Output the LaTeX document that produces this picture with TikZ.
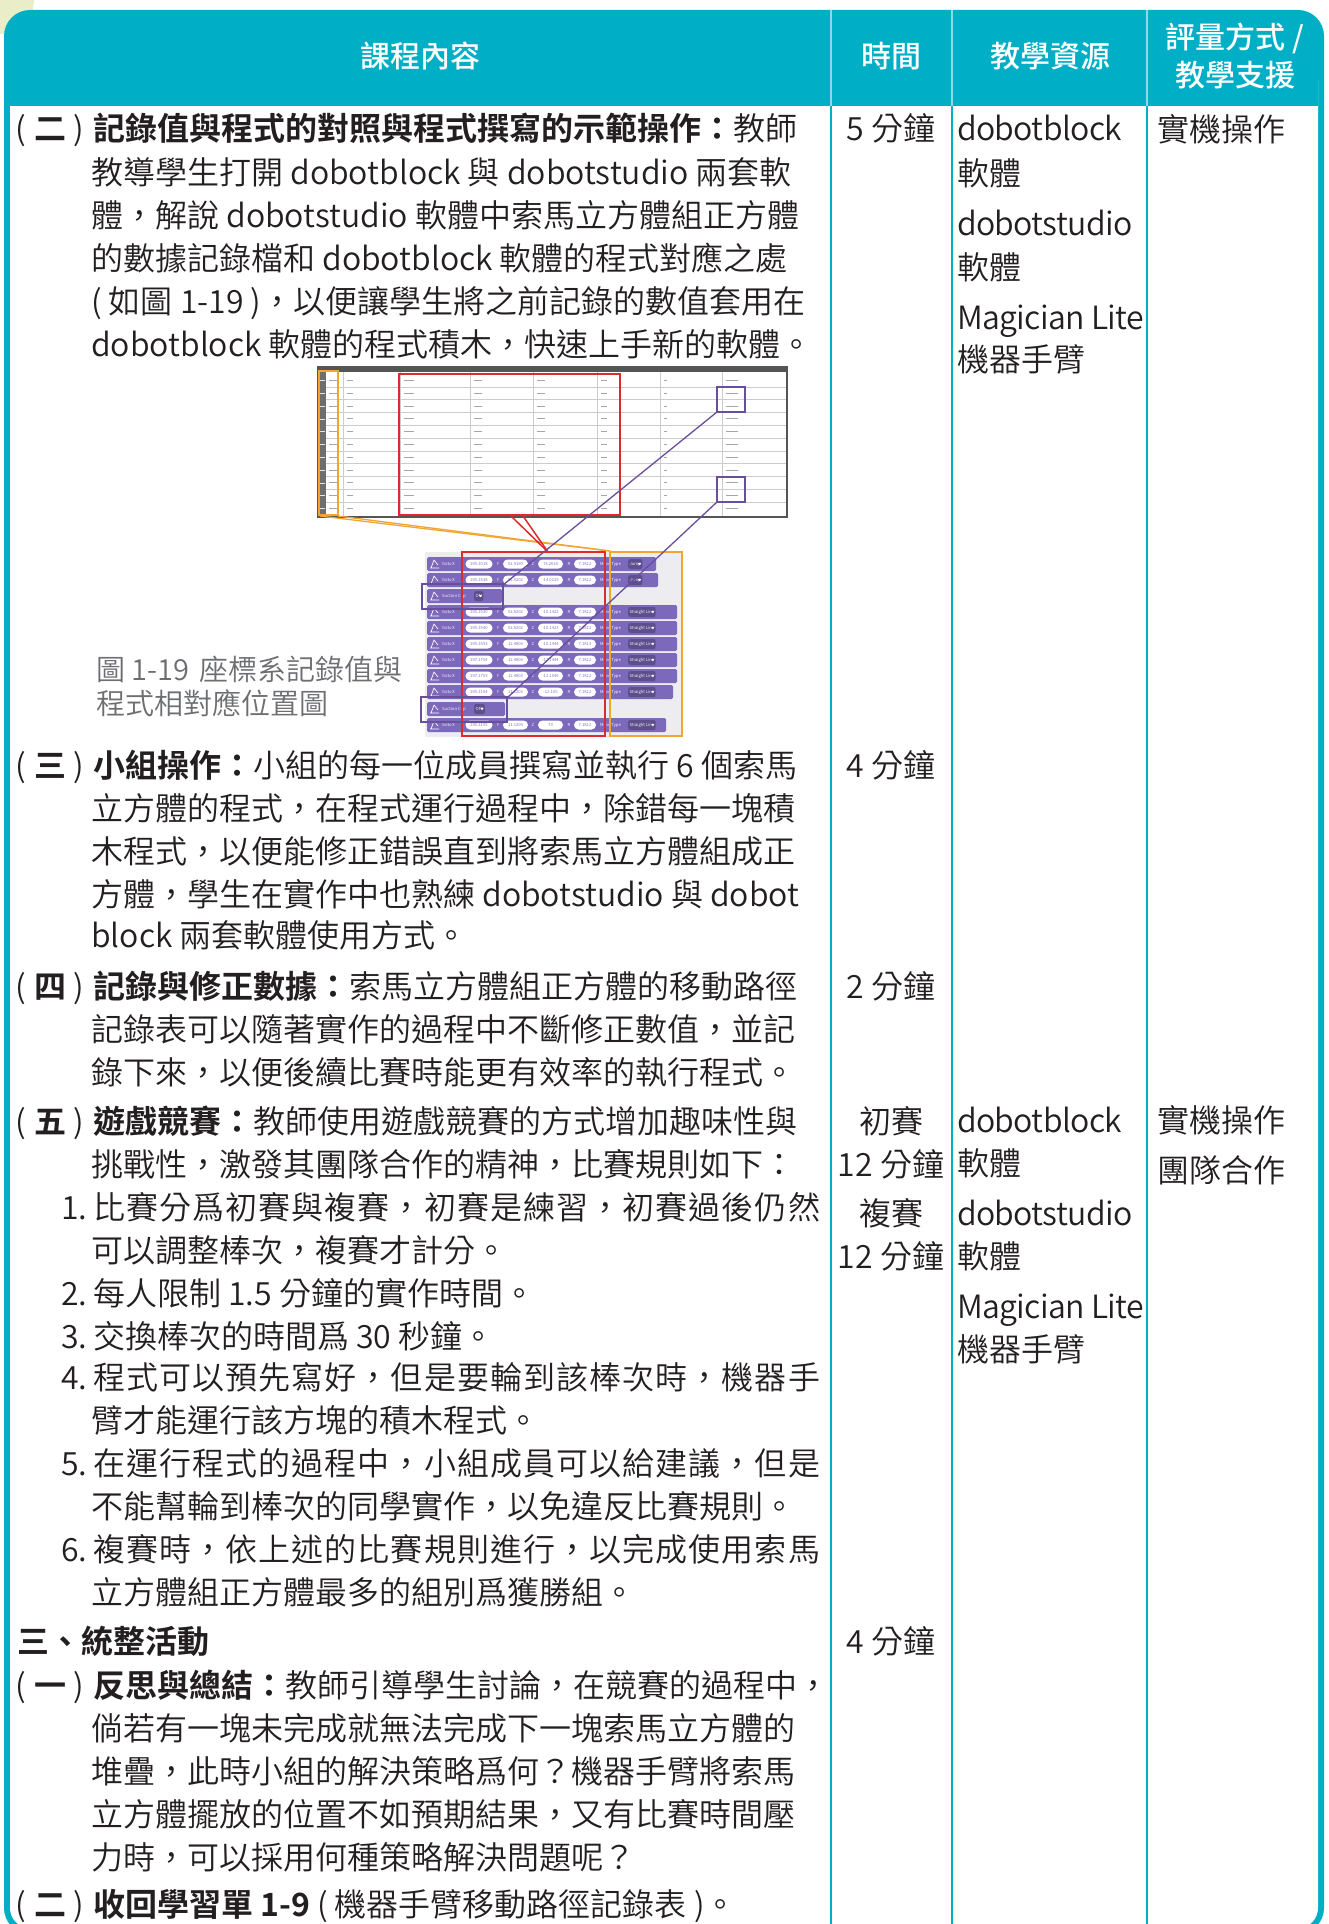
\documentclass[tikz,border=0pt]{standalone}
\usepackage{fontspec}
\setmainfont{Noto Sans CJK TC}[UprightFont=* DemiLight, BoldFont=* Bold]
\newfontfamily\hdrfont{Noto Sans CJK TC}[UprightFont=* Medium]
\definecolor{tealc}{HTML}{00AEC6}
\definecolor{ink}{HTML}{231F20}
\definecolor{capgray}{HTML}{6D6E71}
\definecolor{palegreen}{HTML}{E9EEC8}
\definecolor{forange}{HTML}{F2A531}
\definecolor{fred}{HTML}{DD2A2E}
\definecolor{fpurple}{HTML}{6A4E9E}
\definecolor{bpurple}{HTML}{7C69BC}
\definecolor{bbg}{HTML}{ECECF1}
\definecolor{tgray}{HTML}{555555}
\tikzset{
 body/.style={anchor=base west, inner sep=0pt, text=ink, font=\fontsize{32}{38}\selectfont},
 bodyc/.style={body, anchor=base},
 hdr/.style={inner sep=0pt, text=white, font=\fontsize{30}{36}\selectfont\hdrfont},
 captxt/.style={anchor=base west, inner sep=0pt, text=capgray, font=\fontsize{29}{34}\selectfont},
 blktxt/.style={inner sep=0pt, text=white, font=\fontsize{4.2}{5}\selectfont},
 pill/.style={fill=white, rounded corners=4.5, minimum height=9, inner sep=0.5pt, text=bpurple, font=\fontsize{4.2}{5}\selectfont},
 dd/.style={fill=bpurple!75!black, rounded corners=2, minimum height=10, inner sep=1.5pt, text=white, font=\fontsize{4.2}{5}\selectfont},
 boxline/.style={line width=1.8},
 link/.style={line width=1.3},
 wide/.style={font=\fontsize{32}{38}\selectfont\addfontfeatures{LetterSpace=3.4}},
 narrow/.style={font=\fontsize{32}{38}\selectfont\addfontfeatures{LetterSpace=-2}},
}
\newcommand\seclbl[3]{%
 \node[bodyc] (#1a) at (21,#2) {(};
 \node[bodyc, font=\fontsize{32}{38}\selectfont\bfseries] (#1b) at (50,#2) {#3};
 \node[bodyc] (#1c) at (79,#2) {)};}
\newcommand\blkicon[1]{%
 \draw[white, line width=0.7, line join=round] (431,#1+4) -- (434,#1-4) -- (438,#1+1) (430,#1+4) -- (439,#1+4);}
\newcommand\gotoblk[8]{%
 \fill[bpurple, rounded corners=1.5] (427,#2-7) rectangle (#3,#2+7);
 \blkicon{#2}
 \node[blktxt, anchor=west] (#1g) at (442,#2) {Goto X};
 \node[pill, minimum width=27] (#1x) at (479,#2) {#4};
 \node[blktxt] (#1yl) at (498,#2) {Y};
 \node[pill, minimum width=25] (#1y) at (515.5,#2) {#5};
 \node[blktxt] (#1zl) at (533,#2) {Z};
 \node[pill, minimum width=25] (#1z) at (550.5,#2) {#6};
 \node[blktxt] (#1rl) at (569,#2) {R};
 \node[pill, minimum width=22] (#1r) at (585,#2) {#7};
 \node[blktxt, anchor=west] (#1m) at (600,#2) {Move Type};
 \node[dd, anchor=west] (#1t) at (628,#2) {#8\hspace{5pt}};
 \fill[white] (#1t.east) ++(-4.5,-1) -- ++(3,0) -- ++(-1.5,2.2) -- cycle;}
\newcommand\sucblk[4]{%
 \fill[bpurple, rounded corners=1.5] (427,#2-7) rectangle (#3,#2+7);
 \blkicon{#2}
 \node[blktxt, anchor=west] (#1s) at (442,#2) {Suction Cup};
 \node[dd, anchor=west] (#1t) at (474,#2) {#4\hspace{5pt}};
 \fill[white] (#1t.east) ++(-4.5,-1) -- ++(3,0) -- ++(-1.5,2.2) -- cycle;}
\begin{document}
\begin{tikzpicture}[x=1pt,y=-1pt]
\clip (0,0) rectangle (1328,1924);
\fill[white] (0,0) rectangle (1328,1924);
% ---------- frame ----------
\fill[palegreen] (0,0) circle[radius=34];
\fill[tealc, rounded corners=26] (4,10) rectangle (1324,1934);
\fill[white, rounded corners=20] (10,60) rectangle (1318,1928);
\fill[tealc] (10,50) rectangle (1318,106);
\foreach \x in {831,952,1147} {
 \draw[white, opacity=0.55, line width=1.5] (\x,10) -- (\x,106);
 \draw[tealc, line width=2.2] (\x,106) -- (\x,1934);
}
% ---------- header ----------
\node[hdr] (h1) at (420,56) {課程內容};
\node[hdr] (h2) at (891,56) {時間};
\node[hdr] (h3) at (1050,56) {教學資源};
\node[hdr] (h4) at (1235,38) {評量方式 /};
\node[hdr] (h5) at (1235,75) {教學支援};
% ---------- section (二) ----------
\seclbl{sa}{141}{二}
\node[body] (a1) at (93,141) {\textbf{記錄值與程式的對照與程式撰寫的示範操作：}教師};
\node[body] (a2) at (91,184) {教導學生打開 dobotblock 與 dobotstudio 兩套軟};
\node[body] (a3) at (91,227) {體，解說 dobotstudio 軟體中索馬立方體組正方體};
\node[body] (a4) at (91,270) {的數據記錄檔和 dobotblock 軟體的程式對應之處};
\node[body] (a5) at (91,313) {( 如圖 1-19 )，以便讓學生將之前記錄的數值套用在};
\node[body] (a6) at (91,356) {dobotblock 軟體的程式積木，快速上手新的軟體。};
% ---------- figure: table screenshot ----------
\fill[white] (318,367) rectangle (787,517);
\fill[tgray] (318,367) rectangle (787,372);
\fill[tgray!85] (318,372) rectangle (326,517);
\foreach \k in {1,...,10} \draw[gray!40, line width=0.4] (326,374+12.8*\k) -- (787,374+12.8*\k);
\foreach \x in {343,400,470,533,597,660,722} \draw[gray!40, line width=0.4] (\x,372) -- (\x,517);
\foreach \r in {0,...,10} {
 \foreach \x/\w in {329/8, 347/6, 404/10, 474/8, 537/8, 601/6, 664/3, 726/12} {
  \draw[gray!70, line width=0.7] (\x,380.4+12.8*\r) -- ++(\w,0);
 }
 \draw[white!80!gray, line width=0.6] (319.5,380.4+12.8*\r) -- ++(5,0);
}
\draw[tgray, line width=1.2] (318,367) rectangle (787,517);
% ---------- figure: block program ----------
\fill[bbg] (425,552) rectangle (683,737);
\gotoblk{k1}{564}{656}{295.2018}{52.9190}{73.2618}{7.1812}{Jump}
\gotoblk{k2}{580}{658}{295.2538}{52.9202}{-14.0219}{7.1812}{Jump}
\sucblk{k3}{596}{502}{ON}
\gotoblk{k4}{612}{677}{295.2530}{52.9202}{-10.1422}{7.1812}{Straight Line}
\gotoblk{k5}{628}{677}{295.2540}{52.9202}{-10.1423}{7.1812}{Straight Line}
\gotoblk{k6}{644}{677}{295.2553}{12.4804}{-10.1444}{7.1813}{Straight Line}
\gotoblk{k7}{660}{677}{297.1754}{12.4804}{-12.1444}{7.1812}{Straight Line}
\gotoblk{k8}{676}{677}{297.1753}{12.4803}{-12.1046}{7.1812}{Straight Line}
\gotoblk{k9}{692}{673}{295.2154}{11.1203}{-12.105}{7.1812}{Straight Line}
\sucblk{k10}{709}{505}{OFF}
\gotoblk{k11}{725}{666}{295.2155}{11.1204}{73}{7.1812}{Straight Line}
% ---------- figure: highlight boxes ----------
\draw[forange, boxline] (318.9,371) rectangle (338,515);
\draw[fred, boxline, line width=2] (399,374) rectangle (620,515);
\draw[fpurple, boxline, line width=1.6] (717,387) rectangle (745,412);
\draw[fpurple, boxline, line width=1.6] (717,477) rectangle (745,502);
\draw[fred, boxline, line width=2] (462,552) rectangle (605,736);
\draw[forange, boxline, line width=2] (610,552) rectangle (682,736);
\draw[fpurple, boxline, line width=1.6] (422,584) rectangle (503,609);
\draw[fpurple, boxline, line width=1.6] (421,697) rectangle (507,722);
% ---------- figure: connectors ----------
\coordinate (oA) at (320,516);
\coordinate (oB) at (338,516);
\coordinate (oC) at (610,551);
\coordinate (rA) at (511,516);
\coordinate (rA2) at (523,516);
\coordinate (rB) at (548,552);
\coordinate (pA) at (717,412);
\coordinate (pB) at (503,585);
\coordinate (pC) at (717,502);
\coordinate (pD) at (507,698);
\draw[forange, link] (oA) -- (oC);
\draw[forange, link] (oB) -- (oC);
\draw[fred, link, line width=1.5] (rA) -- (rB);
\draw[fred, link, line width=1.5] (rA2) -- (rB);
\draw[fpurple, link] (pA) -- (pB);
\draw[fpurple, link] (pC) -- (pD);
% ---------- caption ----------
\node[captxt] (c1) at (96,680) {圖 1-19\hspace{10pt}座標系記錄值與};
\node[captxt] (c2) at (96,714) {程式相對應位置圖};
% ---------- section (三) ----------
\seclbl{sb}{777}{三}
\node[body] (b1) at (93,777) {\textbf{小組操作：}小組的每一位成員撰寫並執行 6 個索馬};
\node[body] (b2) at (91,820) {立方體的程式，在程式運行過程中，除錯每一塊積};
\node[body] (b3) at (91,863) {木程式，以便能修正錯誤直到將索馬立方體組成正};
\node[body] (b4) at (91,906) {方體，學生在實作中也熟練 dobotstudio 與 dobot};
\node[body] (b5) at (91,947) {block 兩套軟體使用方式。};
% ---------- section (四) ----------
\seclbl{sd}{998}{四}
\node[body] (d1) at (93,998) {\textbf{記錄與修正數據：}索馬立方體組正方體的移動路徑};
\node[body] (d2) at (91,1041) {記錄表可以隨著實作的過程中不斷修正數值，並記};
\node[body] (d3) at (91,1084) {錄下來，以便後續比賽時能更有效率的執行程式。};
% ---------- section (五) ----------
\seclbl{se}{1133}{五}
\node[body] (e1) at (93,1133) {\textbf{遊戲競賽：}教師使用遊戲競賽的方式增加趣味性與};
\node[body] (e2) at (91,1176) {挑戰性，激發其團隊合作的精神，比賽規則如下：};
\node[body] (n1) at (61,1219) {1.};
\node[body, wide] (e3) at (93,1219) {比賽分爲初賽與複賽，初賽是練習，初賽過後仍然};
\node[body] (e4) at (91,1262) {可以調整棒次，複賽才計分。};
\node[body] (n2) at (61,1305) {2.};
\node[body] (e5) at (93,1305) {每人限制 1.5 分鐘的實作時間。};
\node[body] (n3) at (61,1348) {3.};
\node[body] (e6) at (93,1348) {交換棒次的時間爲 30 秒鐘。};
\node[body] (n4) at (61,1389) {4.};
\node[body, wide] (e7) at (93,1389) {程式可以預先寫好，但是要輪到該棒次時，機器手};
\node[body] (e8) at (91,1432) {臂才能運行該方塊的積木程式。};
\node[body] (n5) at (61,1475) {5.};
\node[body, wide] (e9) at (93,1475) {在運行程式的過程中，小組成員可以給建議，但是};
\node[body] (e10) at (91,1518) {不能幫輪到棒次的同學實作，以免違反比賽規則。};
\node[body] (n6) at (61,1561) {6.};
\node[body, wide] (e11) at (93,1561) {複賽時，依上述的比賽規則進行，以完成使用索馬};
\node[body] (e12) at (91,1604) {立方體組正方體最多的組別爲獲勝組。};
% ---------- 三、統整活動 ----------
\node[body] (s3) at (17,1653) {\textbf{三、統整活動}};
\seclbl{sf}{1697}{一}
\node[body] (f1) at (93,1697) {\textbf{反思與總結：}教師引導學生討論，在競賽的過程中，};
\node[body] (f2) at (91,1740) {倘若有一塊未完成就無法完成下一塊索馬立方體的};
\node[body] (f3) at (91,1783) {堆疊，此時小組的解決策略爲何？機器手臂將索馬};
\node[body] (f4) at (91,1826) {立方體擺放的位置不如預期結果，又有比賽時間壓};
\node[body] (f5) at (91,1869) {力時，可以採用何種策略解決問題呢？};
\seclbl{sg}{1916}{二}
\node[body] (g1) at (93,1916) {\textbf{收回學習單 1-9} ( 機器手臂移動路徑記錄表 )。};
% ---------- time column ----------
\node[bodyc] (t1) at (891,141) {5 分鐘};
\node[bodyc] (t2) at (891,777) {4 分鐘};
\node[bodyc] (t3) at (891,998) {2 分鐘};
\node[bodyc] (t4) at (891,1133) {初賽};
\node[bodyc] (t5) at (891,1176) {12 分鐘};
\node[bodyc] (t6) at (891,1225) {複賽};
\node[bodyc] (t7) at (891,1268) {12 分鐘};
\node[bodyc] (t8) at (891,1653) {4 分鐘};
% ---------- resources column ----------
\node[body, narrow] (r1) at (957,141) {dobotblock};
\node[body] (r2) at (957,185) {軟體};
\node[body, narrow] (r3) at (957,235) {dobotstudio};
\node[body] (r4) at (957,279) {軟體};
\node[body, narrow] (r5) at (957,329) {Magician Lite};
\node[body] (r6) at (957,371) {機器手臂};
\node[body, narrow] (r7) at (957,1132) {dobotblock};
\node[body] (r8) at (957,1175) {軟體};
\node[body, narrow] (r9) at (957,1225) {dobotstudio};
\node[body] (r10) at (957,1268) {軟體};
\node[body, narrow] (r11) at (957,1318) {Magician Lite};
\node[body] (r12) at (957,1361) {機器手臂};
% ---------- assessment column ----------
\node[body] (v1) at (1157,142) {實機操作};
\node[body] (v2) at (1157,1132) {實機操作};
\node[body] (v3) at (1157,1182) {團隊合作};
\end{tikzpicture}
\end{document}
